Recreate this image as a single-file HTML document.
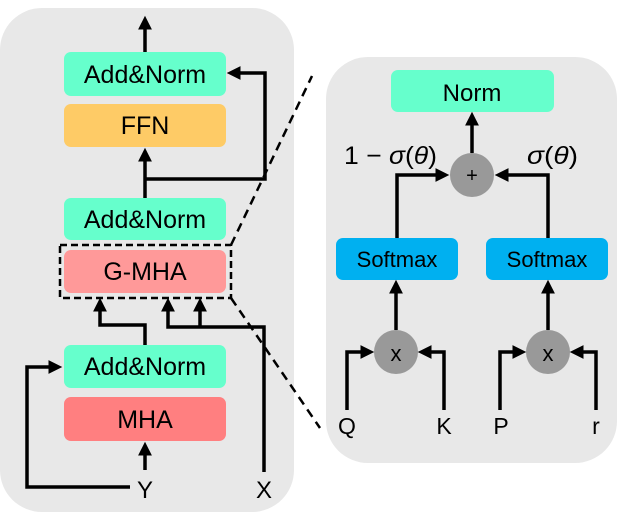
<!DOCTYPE html>
<html><head><meta charset="utf-8"><style>
html,body{margin:0;padding:0;background:#fff;width:618px;height:517px;overflow:hidden}
svg text{font-family:"Liberation Sans",sans-serif;}
</style></head><body>
<svg width="618" height="517" viewBox="0 0 618 517" xmlns="http://www.w3.org/2000/svg">
<defs>
<marker id="a" markerWidth="4" markerHeight="4" refX="2.2" refY="2" orient="auto" markerUnits="strokeWidth">
<path d="M0,0 L4,2 L0,4 Z" fill="#000"/></marker>
</defs>
<rect x="0" y="8" width="294" height="504" rx="42" fill="#e8e8e8"/>
<rect x="326" y="57" width="291" height="406" rx="42" fill="#e8e8e8"/>
<g stroke="#000" stroke-width="3.5" fill="none">
<path d="M231,245 L312,76" stroke-width="2.5" stroke-dasharray="9,6"/>
<path d="M231,298 L320,428" stroke-width="2.5" stroke-dasharray="9,6"/>
</g>
<rect x="64" y="52" width="162" height="44" rx="7" fill="#66ffcc"/>
<rect x="64" y="104" width="162" height="43" rx="7" fill="#fecb66"/>
<rect x="64" y="198" width="162" height="42" rx="7" fill="#66ffcc"/>
<rect x="64" y="250" width="162" height="43" rx="7" fill="#ff9999"/>
<rect x="60" y="245" width="171" height="53" fill="none" stroke="#000" stroke-width="2.5" stroke-dasharray="7,4"/>
<rect x="64" y="345" width="162" height="43" rx="7" fill="#66ffcc"/>
<rect x="64" y="397" width="162" height="44" rx="7" fill="#ff7f80"/>
<g font-size="25" text-anchor="middle" fill="#000">
<text x="145" y="83">Add&amp;Norm</text>
<text x="145" y="134">FFN</text>
<text x="145" y="228">Add&amp;Norm</text>
<text x="145" y="280">G-MHA</text>
<text x="145" y="375">Add&amp;Norm</text>
<text x="145" y="428">MHA</text>
<text x="145" y="498" font-size="24">Y</text>
<text x="264" y="498" font-size="24">X</text>
</g>
<g stroke="#000" stroke-width="3.5" fill="none" stroke-linejoin="miter">
<path d="M145,52 L145,22" marker-end="url(#a)"/>
<path d="M145,198 L145,154" marker-end="url(#a)"/>
<path d="M145,179 L265,179 L265,73 L233,73" marker-end="url(#a)"/>
<path d="M145,345 L145,325 L100,325 L100,304" marker-end="url(#a)"/>
<path d="M264,472 L264,327 L168,327 L168,304" marker-end="url(#a)"/>
<path d="M200,328 L200,304" marker-end="url(#a)"/>
<path d="M145,470 L145,448" marker-end="url(#a)"/>
<path d="M130,487 L27,487 L27,367 L56,367" marker-end="url(#a)"/>
</g>
<rect x="391" y="70" width="163" height="42" rx="7" fill="#66ffcc"/>
<rect x="336" y="238" width="122" height="42" rx="7" fill="#00b0f0"/>
<rect x="486" y="238" width="122" height="42" rx="7" fill="#00b0f0"/>
<circle cx="472" cy="175" r="22" fill="#999"/>
<circle cx="396" cy="352" r="22" fill="#999"/>
<circle cx="548" cy="352" r="22" fill="#999"/>
<g stroke="#000" stroke-width="3.5" fill="none">
<path d="M472,153 L472,118" marker-end="url(#a)"/>
<path d="M397,238 L397,175 L443,175" marker-end="url(#a)"/>
<path d="M548,238 L548,175 L501,175" marker-end="url(#a)"/>
<path d="M396,330 L396,286" marker-end="url(#a)"/>
<path d="M548,330 L548,286" marker-end="url(#a)"/>
<path d="M347,410 L347,352 L368,352" marker-end="url(#a)"/>
<path d="M444,410 L444,352 L424,352" marker-end="url(#a)"/>
<path d="M500,410 L500,352 L520,352" marker-end="url(#a)"/>
<path d="M596,410 L596,352 L576,352" marker-end="url(#a)"/>
</g>
<g text-anchor="middle" fill="#000">
<text x="472" y="101" font-size="24">Norm</text>
<text x="397" y="267" font-size="22">Softmax</text>
<text x="547" y="267" font-size="22">Softmax</text>
<text x="472" y="182" font-size="20">+</text>
<text x="396" y="361" font-size="22">x</text>
<text x="548" y="361" font-size="22">x</text>
<text x="347" y="434" font-size="23">Q</text>
<text x="444" y="434" font-size="23">K</text>
<text x="501" y="434" font-size="23">P</text>
<text x="596" y="434" font-size="23">r</text>
</g>
<g font-family="'Liberation Serif',serif" font-size="25" fill="#000">
<text x="344" y="164" textLength="93" lengthAdjust="spacingAndGlyphs">1 − <tspan font-style="italic">σ</tspan>(<tspan font-style="italic">θ</tspan>)</text>
<text x="527" y="164" textLength="51" lengthAdjust="spacingAndGlyphs"><tspan font-style="italic">σ</tspan>(<tspan font-style="italic">θ</tspan>)</text>
</g>
</svg>
</body></html>
